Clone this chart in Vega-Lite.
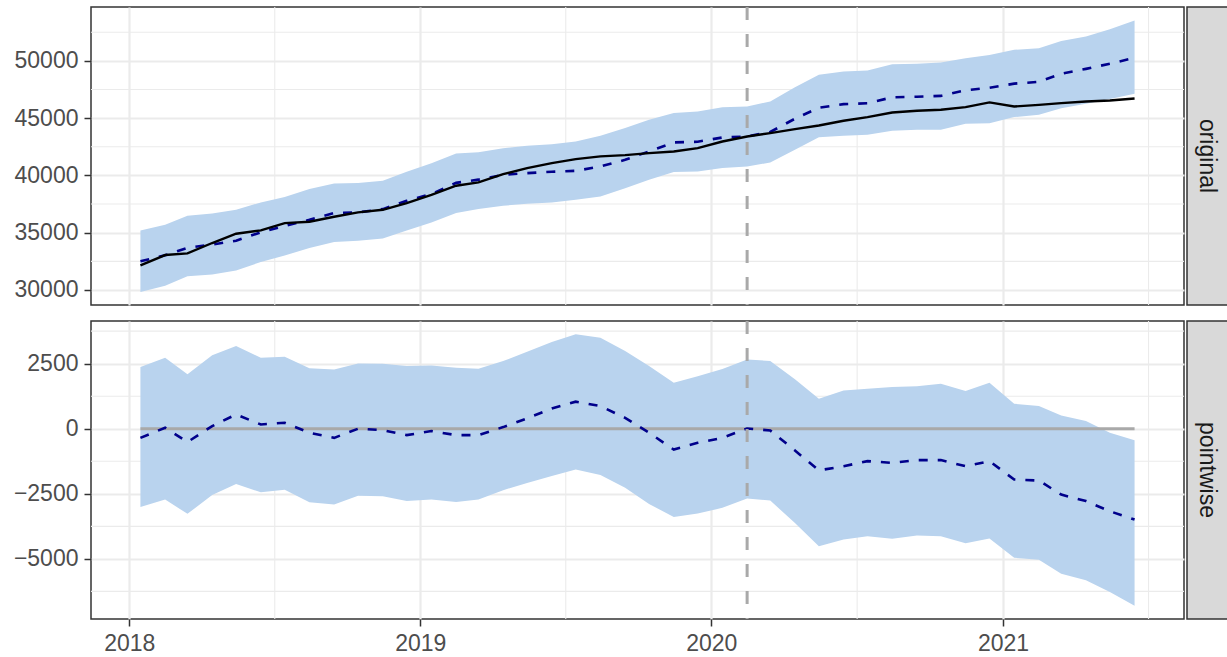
{
  "$schema": "https://vega.github.io/schema/vega-lite/v6.json",
  "padding": {"left": 10, "top": 4, "right": 0, "bottom": 0},
  "background": "white",
  "config": {
    "font": "Liberation Sans",
    "view": {"stroke": "#333333", "strokeWidth": 1.5},
    "axis": {
      "labelFontSize": 23, "labelColor": "#4D4D4D", "labelFont": "Liberation Sans",
      "tickColor": "#333333", "tickWidth": 1.5, "tickSize": 7, "labelPadding": 6,
      "domain": false, "gridColor": "#EBEBEB", "gridWidth": 2.2
    }
  },
  "datasets": {
    "ts": [
      {"date": "2018-01-15", "actual": 32150, "pred": 32500, "plo": 29820, "phi": 35200, "eff": -350, "elo": -3010, "ehi": 2370},
      {"date": "2018-02-15", "actual": 33050, "pred": 33030, "plo": 30380, "phi": 35700, "eff": 40, "elo": -2720, "ehi": 2730},
      {"date": "2018-03-15", "actual": 33200, "pred": 33680, "plo": 31190, "phi": 36480, "eff": -510, "elo": -3270, "ehi": 2090},
      {"date": "2018-04-15", "actual": 34100, "pred": 33970, "plo": 31360, "phi": 36680, "eff": 100, "elo": -2550, "ehi": 2820},
      {"date": "2018-05-15", "actual": 34910, "pred": 34300, "plo": 31710, "phi": 37010, "eff": 550, "elo": -2120, "ehi": 3180},
      {"date": "2018-06-15", "actual": 35200, "pred": 35040, "plo": 32440, "phi": 37640, "eff": 165, "elo": -2440, "ehi": 2730},
      {"date": "2018-07-15", "actual": 35840, "pred": 35590, "plo": 33020, "phi": 38110, "eff": 230, "elo": -2340, "ehi": 2770},
      {"date": "2018-08-15", "actual": 35960, "pred": 36120, "plo": 33660, "phi": 38810, "eff": -155, "elo": -2820, "ehi": 2320},
      {"date": "2018-09-15", "actual": 36390, "pred": 36730, "plo": 34180, "phi": 39300, "eff": -350, "elo": -2910, "ehi": 2280},
      {"date": "2018-10-15", "actual": 36770, "pred": 36770, "plo": 34300, "phi": 39330, "eff": 0, "elo": -2570, "ehi": 2510},
      {"date": "2018-11-15", "actual": 37000, "pred": 37060, "plo": 34500, "phi": 39530, "eff": -55, "elo": -2590, "ehi": 2500},
      {"date": "2018-12-15", "actual": 37590, "pred": 37780, "plo": 35200, "phi": 40320, "eff": -245, "elo": -2780, "ehi": 2410},
      {"date": "2019-01-15", "actual": 38310, "pred": 38380, "plo": 35890, "phi": 41070, "eff": -90, "elo": -2720, "ehi": 2435},
      {"date": "2019-02-15", "actual": 39100, "pred": 39350, "plo": 36710, "phi": 41920, "eff": -245, "elo": -2810, "ehi": 2345},
      {"date": "2019-03-15", "actual": 39390, "pred": 39630, "plo": 37060, "phi": 42030, "eff": -245, "elo": -2720, "ehi": 2305},
      {"date": "2019-04-15", "actual": 40110, "pred": 40055, "plo": 37350, "phi": 42380, "eff": 63, "elo": -2360, "ehi": 2600},
      {"date": "2019-05-15", "actual": 40640, "pred": 40200, "plo": 37530, "phi": 42590, "eff": 400, "elo": -2080, "ehi": 2960},
      {"date": "2019-06-15", "actual": 41070, "pred": 40320, "plo": 37640, "phi": 42730, "eff": 780, "elo": -1820, "ehi": 3330},
      {"date": "2019-07-15", "actual": 41420, "pred": 40400, "plo": 37880, "phi": 42960, "eff": 1040, "elo": -1565, "ehi": 3630},
      {"date": "2019-08-15", "actual": 41660, "pred": 40780, "plo": 38170, "phi": 43460, "eff": 870, "elo": -1780, "ehi": 3500},
      {"date": "2019-09-15", "actual": 41770, "pred": 41360, "plo": 38890, "phi": 44130, "eff": 420, "elo": -2270, "ehi": 2990},
      {"date": "2019-10-15", "actual": 41950, "pred": 42100, "plo": 39620, "phi": 44850, "eff": -155, "elo": -2890, "ehi": 2410},
      {"date": "2019-11-15", "actual": 42090, "pred": 42880, "plo": 40290, "phi": 45440, "eff": -800, "elo": -3390, "ehi": 1770},
      {"date": "2019-12-15", "actual": 42380, "pred": 42940, "plo": 40350, "phi": 45580, "eff": -540, "elo": -3260, "ehi": 2020},
      {"date": "2020-01-15", "actual": 42960, "pred": 43310, "plo": 40640, "phi": 45960, "eff": -350, "elo": -3040, "ehi": 2300},
      {"date": "2020-02-15", "actual": 43400, "pred": 43400, "plo": 40780, "phi": 46020, "eff": 10, "elo": -2680, "ehi": 2665},
      {"date": "2020-03-15", "actual": 43690, "pred": 43790, "plo": 41130, "phi": 46450, "eff": -65, "elo": -2760, "ehi": 2600},
      {"date": "2020-04-15", "actual": 44040, "pred": 44950, "plo": 42240, "phi": 47700, "eff": -835, "elo": -3620, "ehi": 1900},
      {"date": "2020-05-15", "actual": 44360, "pred": 45900, "plo": 43340, "phi": 48780, "eff": -1600, "elo": -4510, "ehi": 1150},
      {"date": "2020-06-15", "actual": 44770, "pred": 46220, "plo": 43460, "phi": 49070, "eff": -1440, "elo": -4260, "ehi": 1470},
      {"date": "2020-07-15", "actual": 45090, "pred": 46300, "plo": 43550, "phi": 49160, "eff": -1245, "elo": -4130, "ehi": 1540},
      {"date": "2020-08-15", "actual": 45490, "pred": 46820, "plo": 43890, "phi": 49710, "eff": -1310, "elo": -4230, "ehi": 1600},
      {"date": "2020-09-15", "actual": 45640, "pred": 46870, "plo": 43980, "phi": 49740, "eff": -1205, "elo": -4100, "ehi": 1630},
      {"date": "2020-10-15", "actual": 45730, "pred": 46940, "plo": 43980, "phi": 49850, "eff": -1205, "elo": -4130, "ehi": 1730},
      {"date": "2020-11-15", "actual": 45960, "pred": 47430, "plo": 44500, "phi": 50230, "eff": -1440, "elo": -4400, "ehi": 1450},
      {"date": "2020-12-15", "actual": 46370, "pred": 47650, "plo": 44560, "phi": 50520, "eff": -1245, "elo": -4220, "ehi": 1770},
      {"date": "2021-01-15", "actual": 46020, "pred": 48010, "plo": 45090, "phi": 50960, "eff": -1950, "elo": -4960, "ehi": 960},
      {"date": "2021-02-15", "actual": 46160, "pred": 48170, "plo": 45290, "phi": 51100, "eff": -1990, "elo": -5030, "ehi": 870},
      {"date": "2021-03-15", "actual": 46310, "pred": 48880, "plo": 45870, "phi": 51740, "eff": -2530, "elo": -5570, "ehi": 510},
      {"date": "2021-04-15", "actual": 46450, "pred": 49300, "plo": 46250, "phi": 52120, "eff": -2780, "elo": -5820, "ehi": 295},
      {"date": "2021-05-15", "actual": 46540, "pred": 49750, "plo": 46660, "phi": 52760, "eff": -3170, "elo": -6270, "ehi": -155},
      {"date": "2021-06-15", "actual": 46710, "pred": 50260, "plo": 47120, "phi": 53520, "eff": -3490, "elo": -6800, "ehi": -440}
    ],
    "xminor": [
      {"date": "2018-07-02T12:00:00Z"},
      {"date": "2019-07-02T12:00:00Z"},
      {"date": "2020-07-02T00:00:00Z"},
      {"date": "2021-07-02T12:00:00Z"}
    ],
    "yminor_top": [{"v": 32500}, {"v": 37500}, {"v": 42500}, {"v": 47500}, {"v": 52500}],
    "yminor_bot": [{"v": 3750}, {"v": 1250}, {"v": -1250}, {"v": -3750}, {"v": -6250}],
    "vline": [{"date": "2020-02-15"}],
    "strip_top": [{"label": "original"}],
    "strip_bot": [{"label": "pointwise"}]
  },
  "spacing": 10,
  "vconcat": [
    {
      "spacing": 0,
      "hconcat": [
        {
          "width": 1093,
          "height": 298,
          "layer": [
            {
              "data": {"name": "xminor"},
              "mark": {"type": "rule", "color": "#EBEBEB", "strokeWidth": 1.1},
              "encoding": {
                "x": {"field": "date", "type": "temporal", "scale": {"type": "utc", "domain": [{"year": 2017, "month": 11, "date": 14, "utc": true}, {"year": 2021, "month": 8, "date": 16, "utc": true}]},
                  "axis": {"values": [{"year": 2018, "month": 1, "date": 1, "utc": true}, {"year": 2019, "month": 1, "date": 1, "utc": true}, {"year": 2020, "month": 1, "date": 1, "utc": true}, {"year": 2021, "month": 1, "date": 1, "utc": true}], "labels": false, "ticks": false, "domain": false, "grid": true, "title": null}}
              }
            },
            {
              "data": {"name": "yminor_top"},
              "mark": {"type": "rule", "color": "#EBEBEB", "strokeWidth": 1.1},
              "encoding": {
                "y": {"field": "v", "type": "quantitative", "scale": {"domain": [28690, 54700], "nice": false, "zero": false},
                  "axis": {"values": [30000, 35000, 40000, 45000, 50000], "format": "d", "grid": true, "title": null, "minExtent": 80, "maxExtent": 80}}
              }
            },
            {
              "data": {"name": "ts"},
              "mark": {"type": "area", "color": "#B9D3EE", "opacity": 1},
              "encoding": {
                "x": {"field": "date", "type": "temporal"},
                "y": {"field": "plo", "type": "quantitative"},
                "y2": {"field": "phi"}
              }
            },
            {
              "data": {"name": "ts"},
              "mark": {"type": "line", "color": "#00008B", "strokeWidth": 2.6, "strokeDash": [9, 10]},
              "encoding": {
                "x": {"field": "date", "type": "temporal"},
                "y": {"field": "pred", "type": "quantitative"}
              }
            },
            {
              "data": {"name": "ts"},
              "mark": {"type": "line", "color": "#000000", "strokeWidth": 2.4},
              "encoding": {
                "x": {"field": "date", "type": "temporal"},
                "y": {"field": "actual", "type": "quantitative"}
              }
            },
            {
              "data": {"name": "vline"},
              "mark": {"type": "rule", "color": "#A9A9A9", "strokeWidth": 3, "strokeDash": [13, 14]},
              "encoding": {
                "x": {"field": "date", "type": "temporal"}
              }
            }
          ]
        },
        {
          "width": 45,
          "height": 298,
          "view": {"fill": "#D9D9D9", "stroke": "#333333", "strokeWidth": 1.5},
          "data": {"name": "strip_top"},
          "mark": {"type": "text", "angle": 90, "fontSize": 23, "color": "#1A1A1A", "font": "Liberation Sans", "dy": 3},
          "encoding": {"text": {"field": "label"}}
        }
      ]
    },
    {
      "spacing": 0,
      "hconcat": [
        {
          "width": 1093,
          "height": 298,
          "layer": [
            {
              "data": {"name": "xminor"},
              "mark": {"type": "rule", "color": "#EBEBEB", "strokeWidth": 1.1},
              "encoding": {
                "x": {"field": "date", "type": "temporal", "scale": {"type": "utc", "domain": [{"year": 2017, "month": 11, "date": 14, "utc": true}, {"year": 2021, "month": 8, "date": 16, "utc": true}]},
                  "axis": {"values": [{"year": 2018, "month": 1, "date": 1, "utc": true}, {"year": 2019, "month": 1, "date": 1, "utc": true}, {"year": 2020, "month": 1, "date": 1, "utc": true}, {"year": 2021, "month": 1, "date": 1, "utc": true}], "format": "%Y", "formatType": "utc", "grid": true, "title": null, "labelPadding": 6}}
              }
            },
            {
              "data": {"name": "yminor_bot"},
              "mark": {"type": "rule", "color": "#EBEBEB", "strokeWidth": 1.1},
              "encoding": {
                "y": {"field": "v", "type": "quantitative", "scale": {"domain": [-7310, 4140], "nice": false, "zero": false},
                  "axis": {"values": [-5000, -2500, 0, 2500], "format": "d", "grid": true, "title": null, "minExtent": 80, "maxExtent": 80}}
              }
            },
            {
              "data": {"name": "ts"},
              "mark": {"type": "area", "color": "#B9D3EE", "opacity": 1},
              "encoding": {
                "x": {"field": "date", "type": "temporal"},
                "y": {"field": "elo", "type": "quantitative"},
                "y2": {"field": "ehi"}
              }
            },
            {
              "data": {"name": "ts"},
              "mark": {"type": "line", "color": "#A9A9A9", "strokeWidth": 3},
              "encoding": {
                "x": {"field": "date", "type": "temporal"},
                "y": {"datum": 0, "type": "quantitative"}
              }
            },
            {
              "data": {"name": "ts"},
              "mark": {"type": "line", "color": "#00008B", "strokeWidth": 2.6, "strokeDash": [9, 10]},
              "encoding": {
                "x": {"field": "date", "type": "temporal"},
                "y": {"field": "eff", "type": "quantitative"}
              }
            },
            {
              "data": {"name": "vline"},
              "mark": {"type": "rule", "color": "#A9A9A9", "strokeWidth": 3, "strokeDash": [13, 14]},
              "encoding": {
                "x": {"field": "date", "type": "temporal"}
              }
            }
          ]
        },
        {
          "width": 45,
          "height": 298,
          "view": {"fill": "#D9D9D9", "stroke": "#333333", "strokeWidth": 1.5},
          "data": {"name": "strip_bot"},
          "mark": {"type": "text", "angle": 90, "fontSize": 23, "color": "#1A1A1A", "font": "Liberation Sans", "dy": 3},
          "encoding": {"text": {"field": "label"}}
        }
      ]
    }
  ]
}
